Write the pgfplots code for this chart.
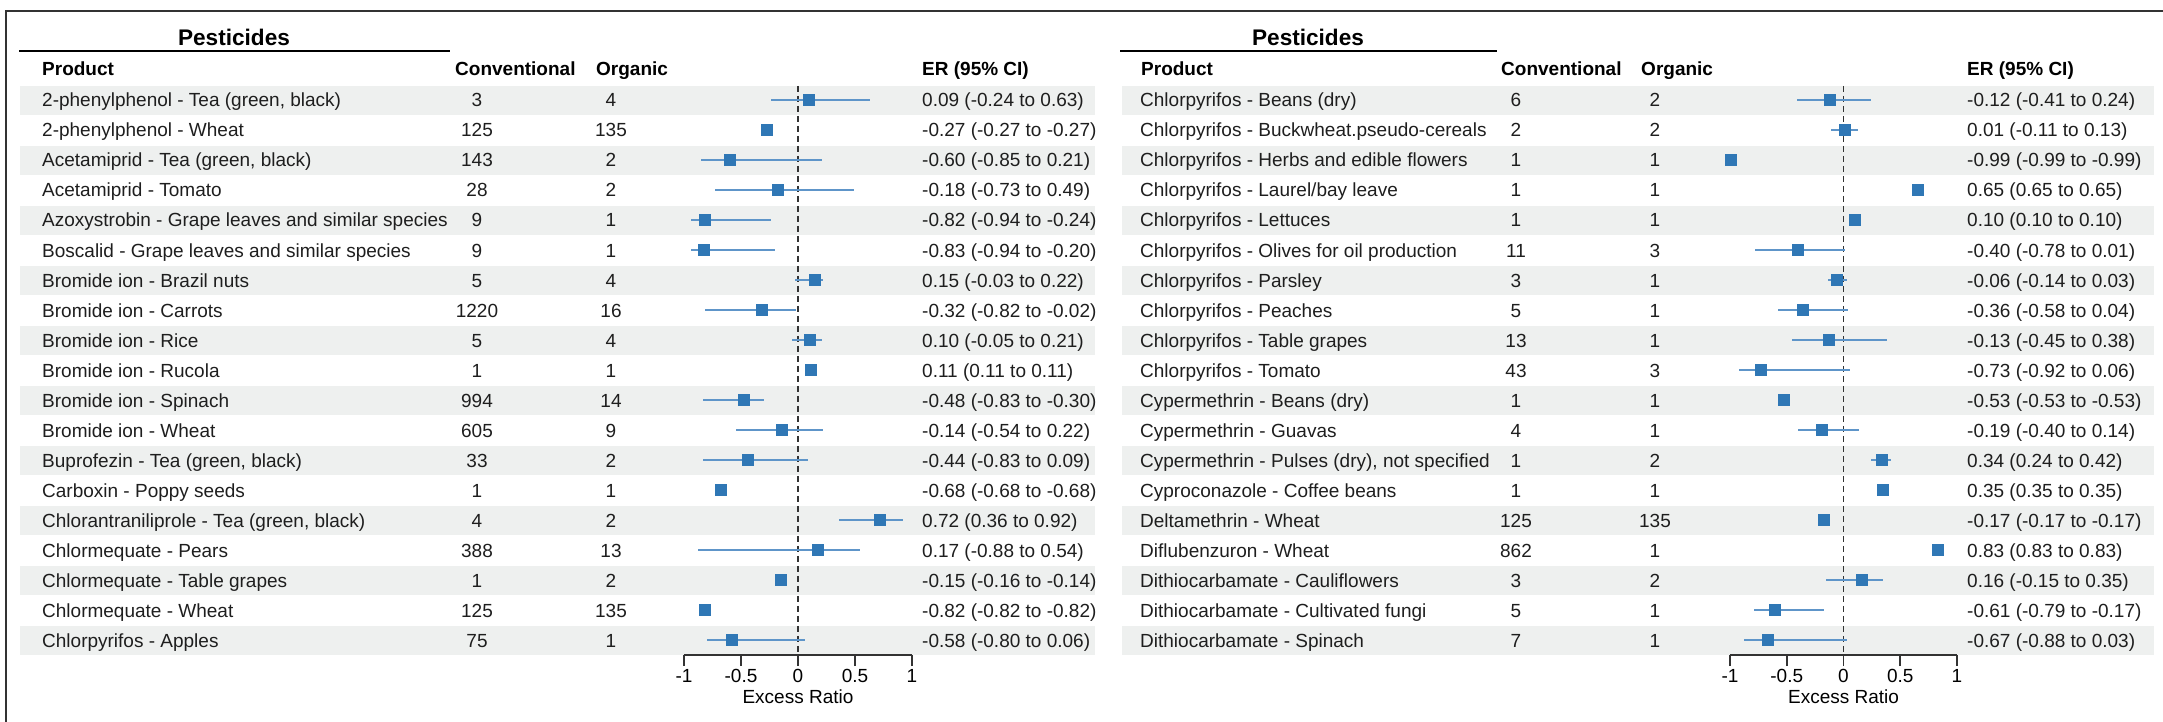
\documentclass[border=0pt]{standalone}
\usepackage{fontspec}
\setmainfont{Liberation Sans}
\usepackage{pgfplots}
\pgfplotsset{compat=1.18}
\usepackage{pgfplotstable}
\definecolor{band}{HTML}{EEF0EF}
\definecolor{sq}{HTML}{2F77B5}
\definecolor{ci}{HTML}{5E95C9}
\definecolor{axc}{HTML}{333333}
\definecolor{txt}{HTML}{1E1E1E}
\newcommand\fs{\fontsize{19}{22}\selectfont}

\pgfplotstableread{
row er lo hi
1 0.09 -0.24 0.63
2 -0.27 -0.27 -0.27
3 -0.60 -0.85 0.21
4 -0.18 -0.73 0.49
5 -0.82 -0.94 -0.24
6 -0.83 -0.94 -0.20
7 0.15 -0.03 0.22
8 -0.32 -0.82 -0.02
9 0.10 -0.05 0.21
10 0.11 0.11 0.11
11 -0.48 -0.83 -0.30
12 -0.14 -0.54 0.22
13 -0.44 -0.83 0.09
14 -0.68 -0.68 -0.68
15 0.72 0.36 0.92
16 0.17 -0.88 0.54
17 -0.15 -0.16 -0.14
18 -0.82 -0.82 -0.82
19 -0.58 -0.80 0.06
}\leftdata

\pgfplotstableread{
row er lo hi
1 -0.12 -0.41 0.24
2 0.01 -0.11 0.13
3 -0.99 -0.99 -0.99
4 0.65 0.65 0.65
5 0.10 0.10 0.10
6 -0.40 -0.78 0.01
7 -0.06 -0.14 0.03
8 -0.36 -0.58 0.04
9 -0.13 -0.45 0.38
10 -0.73 -0.92 0.06
11 -0.53 -0.53 -0.53
12 -0.19 -0.40 0.14
13 0.34 0.24 0.42
14 0.35 0.35 0.35
15 -0.17 -0.17 -0.17
16 0.83 0.83 0.83
17 0.16 -0.15 0.35
18 -0.61 -0.79 -0.17
19 -0.67 -0.88 0.03
}\rightdata

\pgfplotsset{forest/.style={
  scale only axis, height=570pt,
  xmin=-1, xmax=1, ymin=0.5, ymax=19.5, y dir=reverse,
  axis x line*=bottom, axis y line=none, ytick=\empty,
  x axis line style={-, line width=1.8pt, color=axc},
  xtick={-1,-0.5,0,0.5,1}, xticklabels={-1,-0.5,0,0.5,1},
  tick align=outside, major tick length=11pt,
  xtick style={line width=1.8pt, color=axc},
  xticklabel style={font=\fs, text=black},
  xlabel={Excess Ratio}, xlabel style={font=\fs, text=black},
  clip=false,
}}

\newcommand\forestplots[1]{%
  \addplot[dash pattern=on 6pt off 4pt, line width=1.6pt, color=axc] coordinates {(0,0.53) (0,19.5)};
  \addplot[only marks, mark=none, error bars/.cd, x dir=both, x explicit, error mark=none,
    error bar style={line width=1.6pt, draw=ci}]
    table[x=er, y=row, x error minus expr=\thisrow{er}-\thisrow{lo}, x error plus expr=\thisrow{hi}-\thisrow{er}] {#1};
  \addplot[only marks, mark=square*, mark size=5.5pt, mark options={fill=sq, draw=sq, line width=0.5pt}]
    table[x=er, y=row] {#1};
}

\begin{document}
\begin{tikzpicture}
\useasboundingbox (0,0) rectangle (2163pt,-722pt);
% frame
\draw[line width=2.5pt, color=axc] (6pt,-722pt) -- (6pt,-11pt) -- (2163pt,-11pt);
% bands
\foreach \k in {0,...,9}{
  \pgfmathsetmacro\ya{-86-60*\k}
  \pgfmathsetmacro\yb{-115-60*\k}
  \fill[band] (20pt,\ya pt) rectangle (1095pt,\yb pt);
  \fill[band] (1122pt,\ya pt) rectangle (2154pt,\yb pt);
}
% titles
\node[anchor=base, font=\fontsize{22.6}{26}\selectfont\bfseries] at (234pt,-46pt) {Pesticides};
\node[anchor=base, font=\fontsize{22.6}{26}\selectfont\bfseries] at (1308pt,-46pt) {Pesticides};
\draw[line width=2.5pt] (19pt,-51pt) -- (450pt,-51pt);
\draw[line width=2.5pt] (1120pt,-51pt) -- (1497pt,-51pt);
% headers
\begin{scope}[every node/.style={anchor=base west, font=\fs\bfseries, inner sep=0pt}]
\node at (42pt,-76pt) {Product};
\node at (455pt,-76pt) {Conventional};
\node at (596pt,-76pt) {Organic};
\node at (922pt,-76pt) {ER (95\% CI)};
\node at (1141pt,-76pt) {Product};
\node at (1501pt,-76pt) {Conventional};
\node at (1641pt,-76pt) {Organic};
\node at (1967pt,-76pt) {ER (95\% CI)};
\end{scope}
% left table text
\foreach \n/\c/\o/\e [count=\i from 0] in {
{2-phenylphenol - Tea (green, black)}/3/4/{0.09 (-0.24 to 0.63)},
{2-phenylphenol - Wheat}/125/135/{-0.27 (-0.27 to -0.27)},
{Acetamiprid - Tea (green, black)}/143/2/{-0.60 (-0.85 to 0.21)},
{Acetamiprid - Tomato}/28/2/{-0.18 (-0.73 to 0.49)},
{Azoxystrobin - Grape leaves and similar species}/9/1/{-0.82 (-0.94 to -0.24)},
{Boscalid - Grape leaves and similar species}/9/1/{-0.83 (-0.94 to -0.20)},
{Bromide ion - Brazil nuts}/5/4/{0.15 (-0.03 to 0.22)},
{Bromide ion - Carrots}/1220/16/{-0.32 (-0.82 to -0.02)},
{Bromide ion - Rice}/5/4/{0.10 (-0.05 to 0.21)},
{Bromide ion - Rucola}/1/1/{0.11 (0.11 to 0.11)},
{Bromide ion - Spinach}/994/14/{-0.48 (-0.83 to -0.30)},
{Bromide ion - Wheat}/605/9/{-0.14 (-0.54 to 0.22)},
{Buprofezin - Tea (green, black)}/33/2/{-0.44 (-0.83 to 0.09)},
{Carboxin - Poppy seeds}/1/1/{-0.68 (-0.68 to -0.68)},
{Chlorantraniliprole - Tea (green, black)}/4/2/{0.72 (0.36 to 0.92)},
{Chlormequate - Pears}/388/13/{0.17 (-0.88 to 0.54)},
{Chlormequate - Table grapes}/1/2/{-0.15 (-0.16 to -0.14)},
{Chlormequate - Wheat}/125/135/{-0.82 (-0.82 to -0.82)},
{Chlorpyrifos - Apples}/75/1/{-0.58 (-0.80 to 0.06)}}{
  \pgfmathsetmacro\yy{-107-30*\i}
  \node[anchor=base west, font=\fs, text=txt, inner sep=0pt] at (42pt,\yy pt) {\n};
  \node[anchor=base, font=\fs, text=txt, inner sep=0pt] at (477pt,\yy pt) {\c};
  \node[anchor=base, font=\fs, text=txt, inner sep=0pt] at (611pt,\yy pt) {\o};
  \node[anchor=base west, font=\fs, text=txt, inner sep=0pt] at (922pt,\yy pt) {\e};
}
% right table text
\foreach \n/\c/\o/\e [count=\i from 0] in {
{Chlorpyrifos - Beans (dry)}/6/2/{-0.12 (-0.41 to 0.24)},
{Chlorpyrifos - Buckwheat.pseudo-cereals}/2/2/{0.01 (-0.11 to 0.13)},
{Chlorpyrifos - Herbs and edible flowers}/1/1/{-0.99 (-0.99 to -0.99)},
{Chlorpyrifos - Laurel/bay leave}/1/1/{0.65 (0.65 to 0.65)},
{Chlorpyrifos - Lettuces}/1/1/{0.10 (0.10 to 0.10)},
{Chlorpyrifos - Olives for oil production}/11/3/{-0.40 (-0.78 to 0.01)},
{Chlorpyrifos - Parsley}/3/1/{-0.06 (-0.14 to 0.03)},
{Chlorpyrifos - Peaches}/5/1/{-0.36 (-0.58 to 0.04)},
{Chlorpyrifos - Table grapes}/13/1/{-0.13 (-0.45 to 0.38)},
{Chlorpyrifos - Tomato}/43/3/{-0.73 (-0.92 to 0.06)},
{Cypermethrin - Beans (dry)}/1/1/{-0.53 (-0.53 to -0.53)},
{Cypermethrin - Guavas}/4/1/{-0.19 (-0.40 to 0.14)},
{Cypermethrin - Pulses (dry), not specified}/1/2/{0.34 (0.24 to 0.42)},
{Cyproconazole - Coffee beans}/1/1/{0.35 (0.35 to 0.35)},
{Deltamethrin - Wheat}/125/135/{-0.17 (-0.17 to -0.17)},
{Diflubenzuron - Wheat}/862/1/{0.83 (0.83 to 0.83)},
{Dithiocarbamate - Cauliflowers}/3/2/{0.16 (-0.15 to 0.35)},
{Dithiocarbamate - Cultivated fungi}/5/1/{-0.61 (-0.79 to -0.17)},
{Dithiocarbamate - Spinach}/7/1/{-0.67 (-0.88 to 0.03)}}{
  \pgfmathsetmacro\yy{-107-30*\i}
  \node[anchor=base west, font=\fs, text=txt, inner sep=0pt] at (1140pt,\yy pt) {\n};
  \node[anchor=base, font=\fs, text=txt, inner sep=0pt] at (1516pt,\yy pt) {\c};
  \node[anchor=base, font=\fs, text=txt, inner sep=0pt] at (1655pt,\yy pt) {\o};
  \node[anchor=base west, font=\fs, text=txt, inner sep=0pt] at (1967pt,\yy pt) {\e};
}
% forest plots
\begin{axis}[forest, width=228pt, at={(798pt,-370pt)}, anchor=center]
\forestplots{\leftdata}
\end{axis}
\begin{axis}[forest, width=227pt, at={(1843.5pt,-370pt)}, anchor=center]
\forestplots{\rightdata}
\end{axis}
\end{tikzpicture}
\end{document}
